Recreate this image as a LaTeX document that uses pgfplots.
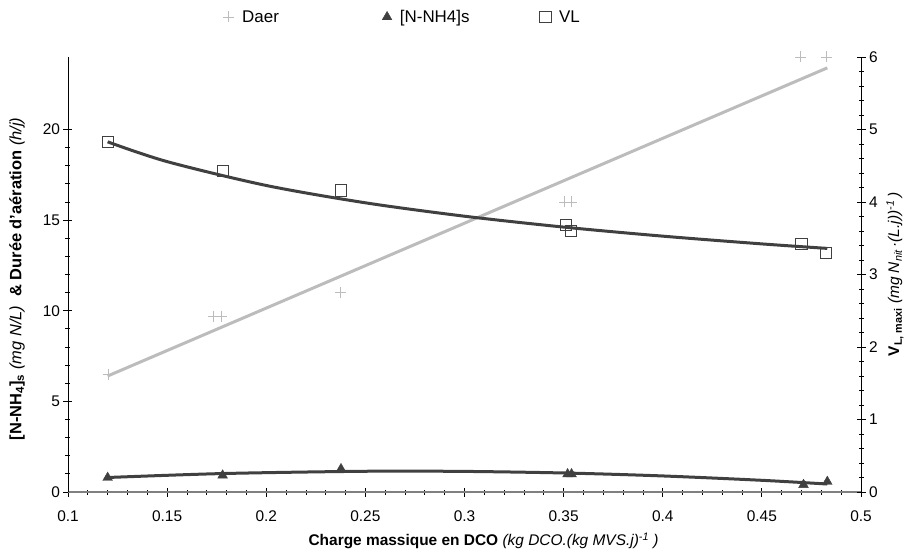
\documentclass[border=0pt]{standalone}
\usepackage{fontspec}
\setmainfont{Liberation Sans}
\usepackage{pgfplots}
\pgfplotsset{compat=1.18}
\definecolor{dark}{RGB}{64,64,64}
\definecolor{lgray}{RGB}{188,188,188}
\definecolor{axgray}{RGB}{128,128,128}
\begin{document}
\begin{tikzpicture}[font=\fontsize{15.5}{18}\selectfont]
\pgfplotsset{
  common/.style={
    scale only axis, width=793bp, height=435bp,
    xmin=0.1, xmax=0.5,
    /pgf/number format/assume math mode=true,
    tick label style={font=\fontsize{15.5}{18}\selectfont},
    label style={font=\fontsize{15.5}{18}\selectfont},
    tick align=center, major tick length=9bp, minor tick length=5bp,
    every tick/.style={black, line width=0.8bp},
    minor y tick num=4,
    y axis line style={black, line width=0.8bp},
  }
}
\begin{axis}[common, name=ax,
  ymin=0, ymax=24,
  axis y line*=left, axis x line*=bottom,
  x axis line style={draw=axgray, line width=1.6bp},
  xtick={0.1,0.15,0.2,0.25,0.3,0.35,0.4,0.45,0.5},
  xticklabels={0.1,0.15,0.2,0.25,0.3,0.35,0.4,0.45,0.5},
  xticklabel style={yshift=-11bp},
  minor x tick num=4,
  ytick={0,5,10,15,20},
  every axis x label/.style={at={(axis description cs:0.524,-0.113)}, anchor=center},
  every axis y label/.style={at={(axis description cs:-0.0643,0.49)}, rotate=90, anchor=center, font=\fontsize{16.5}{18}\selectfont},
  xlabel={\textbf{Charge massique en DCO} \textit{(kg DCO.(kg MVS.j)\textsuperscript{-1} )}},
  ylabel={\textbf{[N-NH\textsubscript{4}]\textsubscript{s}} \textit{(mg N/L)}\ \ \textbf{\& Durée d'aération} \textit{(h/j)}},
  legend columns=3,
  legend image code/.code={\draw[mark repeat=1,#1] plot coordinates {(0bp,0bp)};},
  legend style={draw=none, fill=none, inner sep=0pt, at={(axis description cs:0.1955,1.092)}, anchor=west,
    font=\fontsize{17}{20}\selectfont, nodes={text width=138bp, align=left, inner sep=2bp},
    /tikz/every odd column/.append style={column sep=6bp}},
]
\addplot[lgray, line width=3bp, forget plot] coordinates {(0.12,6.40) (0.483,23.40)};
\addplot[only marks, mark=+, mark size=5.5bp, lgray, mark options={line width=0.9bp}] coordinates {
(0.1202,6.5) (0.1732,9.7) (0.1775,9.7) (0.2376,11.0) (0.3505,16.0) (0.3539,16.0) (0.4696,24.0) (0.4827,24.0)};
\addlegendentry{Daer}
\addplot[dark, line width=3bp, smooth, forget plot] coordinates {
(0.12,0.80) (0.178,1.018) (0.25,1.144) (0.30,1.136) (0.352,1.045) (0.40,0.886) (0.45,0.645) (0.483,0.44)};
\addplot[only marks, mark=triangle*, mark size=5.6bp, dark] coordinates {
(0.120,0.79) (0.178,0.92) (0.2377,1.27) (0.352,0.99) (0.354,0.99) (0.471,0.40) (0.483,0.57)};
\addlegendentry{[N-NH4]s}
\addlegendimage{only marks, mark=square, mark size=5.6bp, dark, mark options={line width=1bp}}
\addlegendentry{VL}
\end{axis}
\begin{axis}[common,
  ymin=0, ymax=6,
  axis y line*=right, axis x line=none,
  ytick={0,1,2,3,4,5,6},
  every axis y label/.style={at={(axis description cs:1.0429,0.5)}, rotate=90, anchor=center},
  ylabel={\textbf{V\textsubscript{L, maxi}} \textit{(mg N\textsubscript{nit}\,·(L.j))\textsuperscript{-1}\,)}},
]
\addplot[dark, line width=3bp, smooth] coordinates {
(0.12,4.83) (0.15,4.557) (0.20,4.228) (0.25,3.989) (0.30,3.804) (0.35,3.654) (0.40,3.529) (0.45,3.422) (0.483,3.36)};
\addplot[only marks, mark=square, mark size=5.6bp, dark, mark options={line width=1bp}] coordinates {
(0.12,4.83) (0.178,4.43) (0.2376,4.16) (0.3512,3.68) (0.3536,3.60) (0.470,3.425) (0.4825,3.30)};
\end{axis}
\pgfresetboundingbox
\path ([xshift=-68bp,yshift=-64bp]ax.south west) rectangle ([xshift=49bp,yshift=57bp]ax.north east);
\end{tikzpicture}
\end{document}
